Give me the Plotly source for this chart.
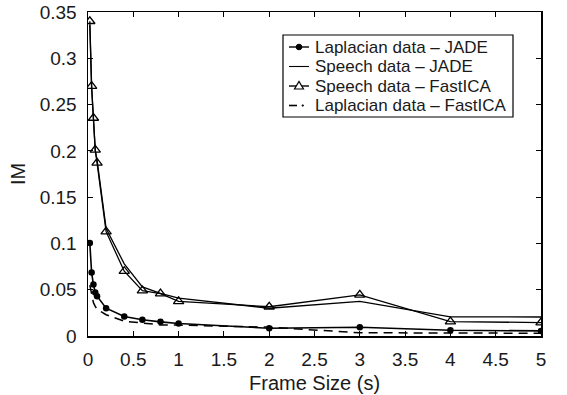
import plotly.graph_objects as go

frame_size = [0.02, 0.04, 0.06, 0.08, 0.1, 0.2, 0.4, 0.6, 0.8, 1, 2, 3, 4, 5]

laplacian_jade = [0.1005, 0.0685, 0.0555, 0.047, 0.043, 0.030, 0.021, 0.0175, 0.0153, 0.0135, 0.0084, 0.0095, 0.0062, 0.0055]
speech_jade = [0.336, 0.268, 0.234, 0.200, 0.190, 0.116, 0.078, 0.053, 0.046, 0.041, 0.030, 0.0375, 0.0207, 0.0205]
speech_fastica = [0.340, 0.270, 0.2355, 0.201, 0.187, 0.1127, 0.070, 0.049, 0.0458, 0.0375, 0.0316, 0.0444, 0.0156, 0.0145]
laplacian_fastica = [0.055, 0.045, 0.036, 0.032, 0.029, 0.023, 0.016, 0.014, 0.012, 0.0118, 0.0095, 0.0035, 0.003, 0.003]

names = ["Laplacian data \u2013 JADE", "Speech data \u2013 JADE",
         "Speech data \u2013 FastICA", "Laplacian data \u2013 FastICA"]

x_ticks = [0, 0.5, 1, 1.5, 2, 2.5, 3, 3.5, 4, 4.5, 5]
y_ticks = [0, 0.05, 0.1, 0.15, 0.2, 0.25, 0.3, 0.35]
x_title = "Frame Size (s)"
y_title = "IM"

FONT = "Liberation Sans, Arial, Helvetica, sans-serif"
TXT = "#1a1a1a"

# figure geometry (pixels)
WIDTH, HEIGHT = 567, 395
ML, MR, MT, MB = 88, 26, 12, 59
PW = WIDTH - ML - MR
PH = HEIGHT - MT - MB


def px(xp):
    return (xp - ML) / PW


def py(yp):
    return (HEIGHT - MB - yp) / PH


fig = go.Figure()
fig.add_trace(go.Scatter(x=frame_size, y=laplacian_jade, name=names[0], mode="lines+markers",
                         line=dict(color="black", width=1.6),
                         marker=dict(symbol="circle", size=6.5, color="black"),
                         showlegend=False))
fig.add_trace(go.Scatter(x=frame_size, y=speech_jade, name=names[1], mode="lines",
                         line=dict(color="black", width=1.3), showlegend=False))
fig.add_trace(go.Scatter(x=frame_size, y=speech_fastica, name=names[2], mode="lines+markers",
                         line=dict(color="black", width=1.3),
                         marker=dict(symbol="triangle-up-open", size=9, color="black",
                                     line=dict(width=1.3, color="black")),
                         showlegend=False))
fig.add_trace(go.Scatter(x=frame_size, y=laplacian_fastica, name=names[3], mode="lines",
                         line=dict(color="black", width=1.5, dash="9px,6px"), showlegend=False))

axis_common = dict(showline=True, linecolor="black", linewidth=1.5, mirror="ticks",
                   ticks="inside", ticklen=5, tickwidth=1, tickcolor="black",
                   showgrid=False, zeroline=False, automargin=False,
                   tickfont=dict(family=FONT, size=19, color=TXT))

fig.update_xaxes(range=[0, 5], tickvals=x_ticks, ticktext=[f"{v:g}" for v in x_ticks],
                 ticklabelstandoff=6, **axis_common)
fig.update_yaxes(range=[0, 0.35], tickvals=y_ticks, ticktext=[f"{v:g}" for v in y_ticks],
                 ticklabelstandoff=6, **axis_common)

# ---- hand-drawn legend box (MATLAB style) ----
box_l, box_r, box_t, box_b = 283, 513, 35, 117
rows = [47.0, 66.5, 86.0, 105.5]
sym_l, sym_r, sym_c, text_x = 289, 309, 299, 313

shapes = [dict(type="rect", xref="paper", yref="paper",
               x0=px(box_l), x1=px(box_r), y0=py(box_b), y1=py(box_t),
               line=dict(color="black", width=1.2), fillcolor="white", layer="above")]
annotations = [
    dict(text=x_title, xref="paper", yref="paper", x=0.5, y=py(383),
         xanchor="center", yanchor="middle", showarrow=False,
         font=dict(family=FONT, size=20, color=TXT)),
    dict(text=y_title, xref="paper", yref="paper", x=px(18), y=py(174), textangle=-90,
         xanchor="center", yanchor="middle", showarrow=False,
         font=dict(family=FONT, size=20, color=TXT)),
]
for i, (nm, ry) in enumerate(zip(names, rows)):
    if i == 3:
        shapes.append(dict(type="line", xref="paper", yref="paper",
                           x0=px(sym_l), x1=px(sym_l + 8), y0=py(ry), y1=py(ry),
                           line=dict(color="black", width=1.6), layer="above"))
        shapes.append(dict(type="circle", xref="paper", yref="paper",
                           x0=px(sym_c + 3), x1=px(sym_c + 4.5), y0=py(ry + 0.75), y1=py(ry - 0.75),
                           line=dict(color="black", width=0.8), fillcolor="black", layer="above"))
    else:
        shapes.append(dict(type="line", xref="paper", yref="paper",
                           x0=px(sym_l), x1=px(sym_r), y0=py(ry), y1=py(ry),
                           line=dict(color="black", width=1.4 if i != 1 else 1.1), layer="above"))
    if i == 0:
        shapes.append(dict(type="circle", xref="paper", yref="paper",
                           x0=px(sym_c - 2.8), x1=px(sym_c + 2.8), y0=py(ry + 2.8), y1=py(ry - 2.8),
                           line=dict(color="black", width=1), fillcolor="black", layer="above"))
    if i == 2:
        path = (f"M {px(sym_c - 4.5)},{py(ry + 3)} L {px(sym_c + 4.5)},{py(ry + 3)} "
                f"L {px(sym_c)},{py(ry - 4.5)} Z")
        shapes.append(dict(type="path", xref="paper", yref="paper", path=path,
                           line=dict(color="black", width=1.2), fillcolor="white", layer="above"))
    annotations.append(dict(text=nm, xref="paper", yref="paper", x=px(text_x), y=py(ry),
                            xanchor="left", yanchor="middle", showarrow=False,
                            font=dict(family=FONT, size=17, color=TXT)))

fig.update_layout(
    width=WIDTH, height=HEIGHT,
    margin=dict(l=ML, r=MR, t=MT, b=MB, autoexpand=False),
    paper_bgcolor="white", plot_bgcolor="white",
    showlegend=False, hovermode=False,
    shapes=shapes, annotations=annotations,
    font=dict(family=FONT, color=TXT),
)

fig.write_html("out.html",
               config={"displayModeBar": False, "staticPlot": True},
               post_script="document.body.style.margin='0';document.body.style.padding='0';")
